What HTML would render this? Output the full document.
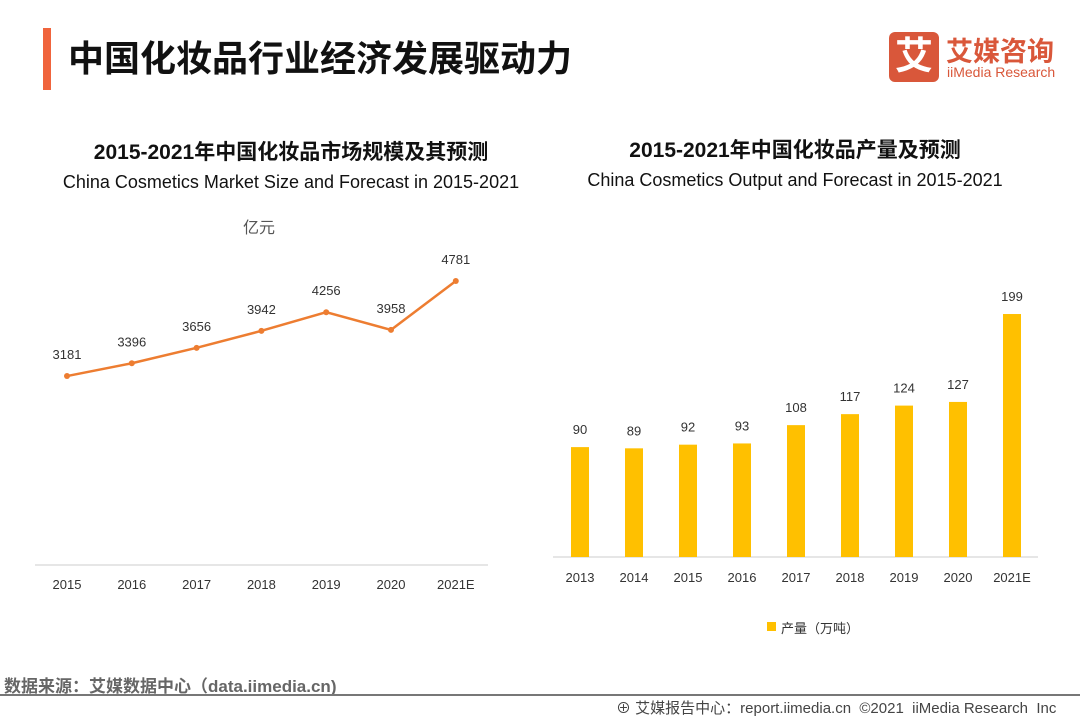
<!DOCTYPE html>
<html><head><meta charset="utf-8">
<style>
body{margin:0;width:1080px;height:720px;background:#fff;font-family:"Liberation Sans","Noto Sans CJK SC",sans-serif;position:relative;overflow:hidden}
.a{position:absolute;white-space:nowrap}
</style></head><body>
<div class="a" style="left:43px;top:28px;width:8px;height:62px;background:#f0643c"></div>
<div class="a" style="left:68px;top:30px;font-size:36px;font-weight:bold;color:#111">中国化妆品行业经济发展驱动力</div>
<div class="a" style="left:889px;top:32px;width:50px;height:50px;background:#d9573a;border-radius:6px;color:#fff;font-size:38px;font-weight:bold;text-align:center;line-height:50px">艾</div>
<div class="a" style="left:946px;top:30px;font-size:27px;font-weight:bold;color:#d9573a">艾媒咨询</div>
<div class="a" style="left:947px;top:64px;font-size:14px;color:#d9573a">iiMedia Research</div>

<div class="a" style="left:0;width:582px;text-align:center;top:136px;font-size:21px;font-weight:bold;color:#111">2015-2021年中国化妆品市场规模及其预测</div>
<div class="a" style="left:0;width:582px;text-align:center;top:172px;font-size:18px;color:#111">China Cosmetics Market Size and Forecast in 2015-2021</div>
<div class="a" style="left:243px;top:214px;font-size:16px;color:#555">亿元</div>
<div class="a" style="left:500px;width:590px;text-align:center;top:134px;font-size:21px;font-weight:bold;color:#111">2015-2021年中国化妆品产量及预测</div>
<div class="a" style="left:500px;width:590px;text-align:center;top:170px;font-size:18px;color:#111">China Cosmetics Output and Forecast in 2015-2021</div>

<svg class="a" style="left:0;top:0" width="1080" height="720" id="svg"></svg>

<div class="a" style="left:767px;top:622px;width:9px;height:9px;background:#ffc000"></div>
<div class="a" style="left:781px;top:618px;font-size:13px;color:#333">产量（万吨）</div>

<div class="a" style="left:4px;top:672px;font-size:17px;font-weight:bold;color:#666">数据来源：艾媒数据中心（data.iimedia.cn)</div>
<div class="a" style="left:0;top:694px;width:1080px;height:2px;background:#777"></div>
<div class="a" style="left:616px;top:697px;font-size:15px;color:#444">⊕ 艾媒报告中心：report.iimedia.cn&nbsp;&nbsp;©2021&nbsp;&nbsp;iiMedia Research&nbsp;&nbsp;Inc</div>

<script>
const lineYears=["2015","2016","2017","2018","2019","2020","2021E"];
const marketSize=[3181,3396,3656,3942,4256,3958,4781];
const barYears=["2013","2014","2015","2016","2017","2018","2019","2020","2021E"];
const output=[90,89,92,93,108,117,124,127,199];
const svg=document.getElementById('svg');
const NS='http://www.w3.org/2000/svg';
function mk(t,a,txt){const e=document.createElementNS(NS,t);for(const k in a)e.setAttribute(k,a[k]);if(txt!==undefined)e.textContent=txt;svg.appendChild(e);return e;}
const lx=i=>67+i*64.8, ly=v=>565-v*0.0594;
let ax=mk('line',{x1:35,x2:488,y1:565,y2:565,stroke:'#ccc'});

let pts=marketSize.map((v,i)=>lx(i)+','+ly(v)).join(' ');
let pl=mk('polyline',{points:pts,fill:'none',stroke:'#ed7d31','stroke-width':2.5});

marketSize.forEach((v,i)=>{
 let c=mk('circle',{cx:lx(i),cy:ly(v),r:3,fill:'#ed7d31'});
 
 let t=mk('text',{x:lx(i),y:ly(v)-17,'text-anchor':'middle','font-size':13,fill:'#333'},v);
 
 let x=mk('text',{x:lx(i),y:589,'text-anchor':'middle','font-size':13,fill:'#333'},lineYears[i]);
 
});
const bx=i=>580+i*54, by=v=>557-v*1.221;
let ax2=mk('line',{x1:553,x2:1038,y1:557,y2:557,stroke:'#ccc'});

output.forEach((v,i)=>{
 let r=mk('rect',{x:bx(i)-9,y:by(v),width:18,height:557-by(v),fill:'#ffc000'});
 
 let t=mk('text',{x:bx(i),y:by(v)-13,'text-anchor':'middle','font-size':13,fill:'#333'},v);
 
 let x=mk('text',{x:bx(i),y:582,'text-anchor':'middle','font-size':13,fill:'#333'},barYears[i]);
 
});
</script>
</body></html>
